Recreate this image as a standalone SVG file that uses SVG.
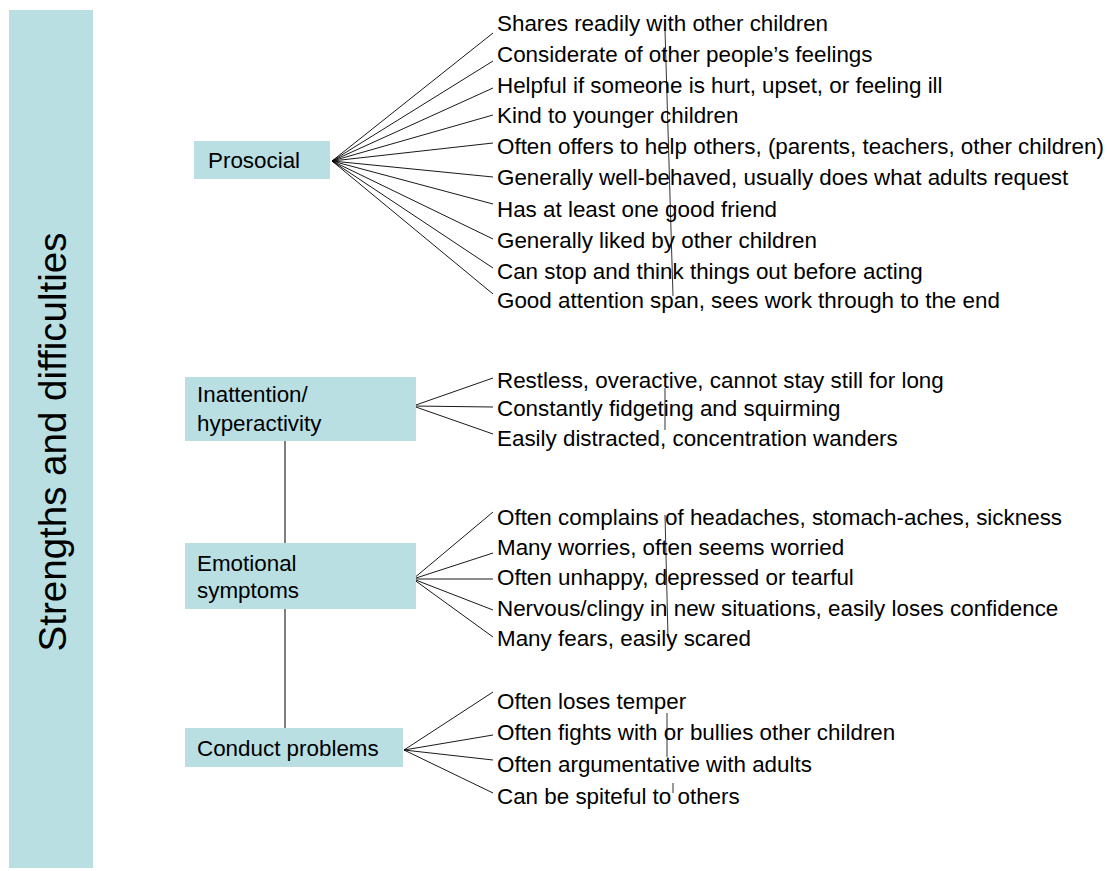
<svg xmlns="http://www.w3.org/2000/svg" width="1107" height="871" viewBox="0 0 1107 871">
<style>
.box{fill:#B9DFE2;}
.t{font-family:"Liberation Sans",Arial,sans-serif;font-size:22.4px;fill:#000;}
.title{font-family:"Liberation Sans",Arial,sans-serif;font-size:38.5px;fill:#000;}
.fan{stroke:#000;stroke-width:0.9;fill:none;}
.link{stroke:#555;stroke-width:1.5;fill:none;}
.tick{stroke:#333;stroke-width:1;fill:none;}
</style>
<rect width="1107" height="871" fill="#fff"/>
<g id="band">
<rect class="box" x="9" y="10" width="84" height="858"/>
<text class="title" transform="translate(66,442) rotate(-90)" text-anchor="middle">Strengths and difficulties</text>
</g>
<g id="connectors">
<line class="link" x1="285" y1="441" x2="285" y2="543"/>
<line class="link" x1="285" y1="609" x2="285" y2="728"/>
<path class="fan" d="M332,161 L493,33 M332,161 L493,61 M332,161 L493,88 M332,161 L493,115 M332,161 L493,143 M332,161 L493,177 M332,161 L493,204 M332,161 L493,239 M332,161 L493,268 M332,161 L493,294"/>
<path class="fan" d="M413,406 L493,378 M413,406 L493,407 M413,406 L493,434"/>
<path class="fan" d="M413,579 L493,512 M413,579 L493,553 M413,579 L493,579 M413,579 L493,610 M413,579 L493,637"/>
<path class="fan" d="M404,750 L493,692 M404,750 L493,735 M404,750 L493,760 M404,750 L493,793"/>
<path class="tick" d="M665,30 L673,296"/>
<path class="tick" d="M665,388 L665,430"/>
<path class="tick" d="M665,515 L668,637"/>
<path class="tick" d="M667,713 L667,757 M673,783 L673,793"/>
</g>
<g id="prosocial">
<rect class="box" x="194" y="141" width="136" height="38"/>
<text class="t" x="208" y="168">Prosocial</text>
</g>
<g id="inattention">
<rect class="box" x="185" y="377" width="231" height="64"/>
<text class="t" x="197" y="402">Inattention/</text>
<text class="t" x="197" y="431">hyperactivity</text>
</g>
<g id="emotional">
<rect class="box" x="185" y="543" width="231" height="66"/>
<text class="t" x="197" y="571">Emotional</text>
<text class="t" x="197" y="598">symptoms</text>
</g>
<g id="conduct">
<rect class="box" x="185" y="728" width="218" height="39"/>
<text class="t" x="197" y="756">Conduct problems</text>
</g>
<g id="prosocial-items">
<text class="t" x="497" y="31">Shares readily with other children</text>
<text class="t" x="497" y="62">Considerate of other people’s feelings</text>
<text class="t" x="497" y="93">Helpful if someone is hurt, upset, or feeling ill</text>
<text class="t" x="497" y="123">Kind to younger children</text>
<text class="t" x="497" y="154">Often offers to help others, (parents, teachers, other children)</text>
<text class="t" x="497" y="185">Generally well-behaved, usually does what adults request</text>
<text class="t" x="497" y="217">Has at least one good friend</text>
<text class="t" x="497" y="248">Generally liked by other children</text>
<text class="t" x="497" y="279">Can stop and think things out before acting</text>
<text class="t" x="497" y="308">Good attention span, sees work through to the end</text>
</g>
<g id="inattention-items">
<text class="t" x="497" y="388">Restless, overactive, cannot stay still for long</text>
<text class="t" x="497" y="416">Constantly fidgeting and squirming</text>
<text class="t" x="497" y="446">Easily distracted, concentration wanders</text>
</g>
<g id="emotional-items">
<text class="t" x="497" y="525">Often complains of headaches, stomach-aches, sickness</text>
<text class="t" x="497" y="555">Many worries, often seems worried</text>
<text class="t" x="497" y="585">Often unhappy, depressed or tearful</text>
<text class="t" x="497" y="616">Nervous/clingy in new situations, easily loses confidence</text>
<text class="t" x="497" y="646">Many fears, easily scared</text>
</g>
<g id="conduct-items">
<text class="t" x="497" y="709">Often loses temper</text>
<text class="t" x="497" y="740">Often fights with or bullies other children</text>
<text class="t" x="497" y="772">Often argumentative with adults</text>
<text class="t" x="497" y="804">Can be spiteful to others</text>
</g>
</svg>
